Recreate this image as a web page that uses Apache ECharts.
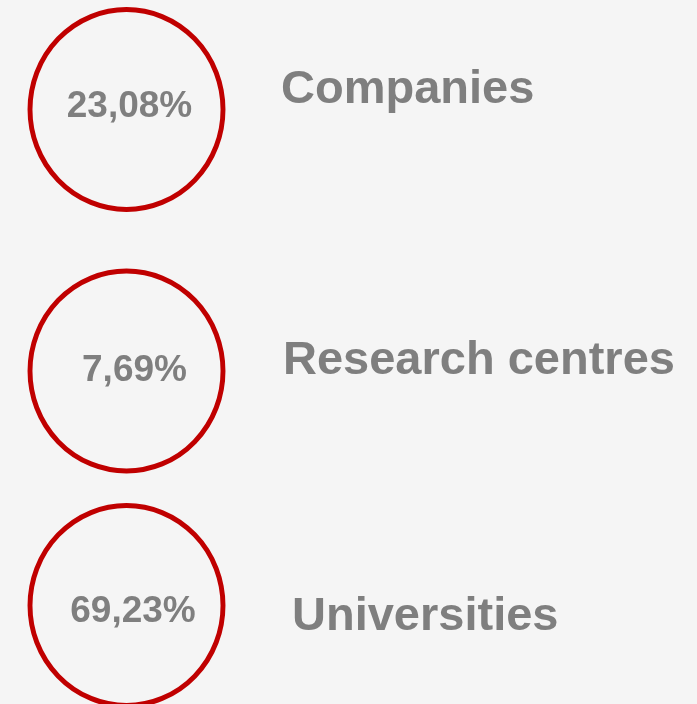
<!DOCTYPE html>
<html>
<head>
<meta charset="utf-8">
<script src="https://cdn.jsdelivr.net/npm/echarts@6/dist/echarts.min.js"></script>
<style>
  html, body { margin: 0; padding: 0; background: #f5f5f5; }
  #chart { width: 697px; height: 704px; }
</style>
</head>
<body>
<div id="chart"></div>
<script>
// Gegevens
const categories = ['Companies', 'Research centres', 'Universities'];
const shares = [23.08, 7.69, 69.23];

// Kleine verschuivingen per rij (opmaak, geen data)
const circleShift = [[0, 0], [0, 13.5], [0, 0]];
const pctShift = [[3, -3], [8, 0], [6.5, 6]];
const nameShift = [[0, -19.5], [2, 4], [11, 11.5]];

const red = '#c00000';
const grey = '#7f7f7f';
const font = '"Liberation Sans", Arial, sans-serif';

let chart = echarts.init(document.getElementById('chart'));

let option = {
    backgroundColor: '#f5f5f5',
    animation: false,
    grid: { left: 126.5, right: 0, top: 109.5, bottom: 98.5 },
    xAxis: { type: 'value', min: 0, max: 1, show: false },
    yAxis: {
        type: 'category',
        data: categories,
        inverse: true,
        boundaryGap: false,
        show: false
    },
    series: [
        {
            name: 'share',
            type: 'scatter',
            clip: false,
            symbol: 'circle',
            symbolSize: [193, 200],
            itemStyle: { color: 'transparent', borderColor: red, borderWidth: 5, opacity: 1 },
            data: categories.map((c, i) => ({
                value: [0, c, shares[i]],
                symbolOffset: circleShift[i],
                label: { offset: pctShift[i] }
            })),
            label: {
                show: true,
                position: 'inside',
                color: grey,
                fontFamily: font,
                fontWeight: 'bold',
                fontSize: 37,
                formatter: p => p.value[2].toFixed(2).replace('.', ',') + '%'
            },
            emphasis: { disabled: true }
        },
        {
            name: 'names',
            type: 'scatter',
            clip: false,
            symbolSize: 1,
            itemStyle: { color: 'transparent', opacity: 1 },
            data: categories.map((c, i) => ({
                value: [0, c],
                label: { offset: nameShift[i] }
            })),
            label: {
                show: true,
                position: 'right',
                distance: 154,
                align: 'left',
                color: grey,
                fontFamily: font,
                fontWeight: 'bold',
                fontSize: 47,
                formatter: p => p.value[1]
            },
            emphasis: { disabled: true }
        }
    ]
};

chart.setOption(option);
window.onresize = () => chart.resize();
</script>
</body>
</html>
